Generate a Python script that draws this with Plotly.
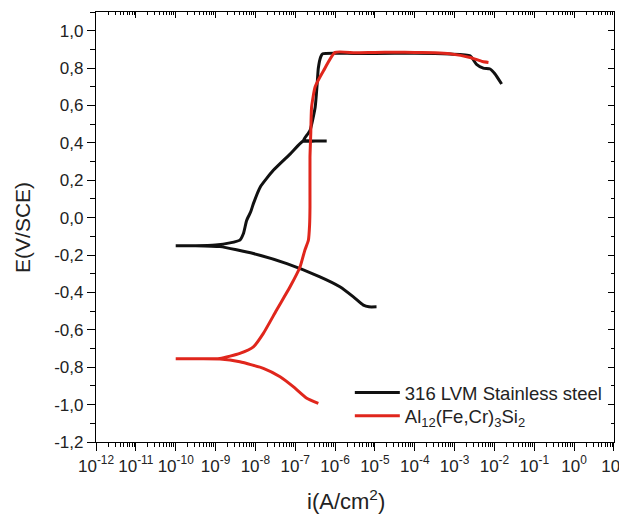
import plotly.graph_objects as go

# ---- data (current as log10(i / A cm^-2), potential in V/SCE) ----
steel_cat_logi = [-10.0, -9.5, -8.89, -8.05, -7.21, -6.38, -5.88, -5.54, -5.29, -5.15, -4.96]
steel_cat_E = [-0.150, -0.150, -0.155, -0.192, -0.246, -0.317, -0.370, -0.424, -0.468, -0.477, -0.477]

steel_an_logi = [-10.0, -9.5, -9.0, -8.64, -8.39, -8.30, -8.22, -8.12, -8.05, -7.88, -7.55, -7.13, -6.80, -6.50, -6.21, -6.50, -6.80,
                 -6.63, -6.50, -6.45, -6.42, -6.36, -6.31, -5.5, -4.5, -3.5, -3.12, -2.61, -2.45, -2.28, -2.11, -1.99, -1.82]
steel_an_E = [-0.150, -0.150, -0.146, -0.135, -0.120, -0.085, -0.015, 0.030, 0.075, 0.163, 0.253, 0.340, 0.410, 0.410, 0.410, 0.410, 0.410,
              0.466, 0.590, 0.715, 0.800, 0.860, 0.877, 0.878, 0.879, 0.878, 0.875, 0.866, 0.820, 0.800, 0.795, 0.770, 0.715]

alloy_cat_logi = [-10.0, -9.5, -8.89, -8.39, -7.80, -7.38, -7.05, -6.71, -6.42]
alloy_cat_E = [-0.755, -0.755, -0.756, -0.771, -0.806, -0.851, -0.904, -0.966, -0.993]

alloy_an_logi = [-10.0, -9.5, -8.89, -8.39, -8.05, -7.80, -7.47, -7.13, -6.88, -6.76, -6.67, -6.64, -6.63, -6.63, -6.61, -6.59,
                 -6.50, -6.29, -6.0, -5.5, -5.0, -4.5, -4.0, -3.5, -3.12, -2.61, -2.30, -2.15]
alloy_an_E = [-0.755, -0.755, -0.753, -0.726, -0.691, -0.619, -0.495, -0.370, -0.264, -0.175, -0.121, -0.040, 0.057, 0.323, 0.450, 0.590,
              0.700, 0.786, 0.884, 0.882, 0.884, 0.885, 0.883, 0.882, 0.877, 0.857, 0.835, 0.830]

y_ticks = [-1.2, -1.0, -0.8, -0.6, -0.4, -0.2, 0.0, 0.2, 0.4, 0.6, 0.8, 1.0]
y_ticktext = ["-1,2", "-1,0", "-0,8", "-0,6", "-0,4", "-0,2", "0,0", "0,2", "0,4", "0,6", "0,8", "1,0"]
x_exponents = list(range(-12, 2))
x_ticktext = [f"10<sup>{e}</sup>" for e in x_exponents]

series_names = ["316 LVM Stainless steel", "Al<sub>12</sub>(Fe,Cr)<sub>3</sub>Si<sub>2</sub>"]
series_colors = ["#111111", "#e0261c"]


def to_i(logs):
    return [10 ** v for v in logs]


fig = go.Figure()
fig.add_trace(go.Scatter(x=to_i(steel_cat_logi[::-1] + steel_an_logi), y=steel_cat_E[::-1] + steel_an_E,
                         mode="lines", name=series_names[0], legend="legend",
                         line=dict(color=series_colors[0], width=3, shape="spline", smoothing=0.5)))
fig.add_trace(go.Scatter(x=to_i(alloy_cat_logi[::-1] + alloy_an_logi), y=alloy_cat_E[::-1] + alloy_an_E,
                         mode="lines", name=series_names[1], legend="legend2",
                         line=dict(color=series_colors[1], width=3, shape="spline", smoothing=0.5)))
# empty trace so the mirrored top/right axes (inward ticks) are drawn
fig.add_trace(go.Scatter(x=[], y=[], xaxis="x2", yaxis="y2", showlegend=False, hoverinfo="skip"))

font_family = "Liberation Sans, Arial, sans-serif"
axis_common = dict(showline=True, linecolor="black", linewidth=1.3, showgrid=False, zeroline=False, automargin=False)
legend_common = dict(xanchor="left", yanchor="middle", bgcolor="rgba(0,0,0,0)",
                     font=dict(size=18.5, color="#222"), itemwidth=45)
x_range = [-12.0005, 1.0005]

fig.update_layout(
    width=619, height=507,
    margin=dict(l=88, r=13, t=4, b=73, autoexpand=False),
    plot_bgcolor="white", paper_bgcolor="white",
    font=dict(family=font_family, size=17, color="#222"),
    xaxis=dict(type="log", range=x_range, tickvals=[10.0 ** e for e in x_exponents], ticktext=x_ticktext,
               ticks="outside", ticklen=8, tickwidth=1.2, tickcolor="black", ticklabeloverflow="allow",
               minor=dict(ticks="outside", ticklen=4, tickwidth=1, tickcolor="black", dtick="D1"),
               tickfont=dict(size=17),
               **axis_common),
    yaxis=dict(range=[-1.2, 1.1], tickvals=y_ticks, ticktext=y_ticktext,
               ticks="outside", ticklen=8, tickwidth=1.2, tickcolor="black",
               minor=dict(ticks="outside", ticklen=5, tickwidth=1, tickcolor="black", dtick=0.1),
               tickfont=dict(size=17),
               **axis_common),
    xaxis2=dict(type="log", range=x_range, overlaying="x", side="top", showticklabels=False,
                tickvals=[10.0 ** e for e in x_exponents], ticks="inside", ticklen=6, tickcolor="black",
                minor=dict(ticks="inside", ticklen=3, tickcolor="black", dtick="D1"), **axis_common),
    yaxis2=dict(range=[-1.2, 1.1], overlaying="y", side="right", showticklabels=False,
                tickvals=y_ticks, ticks="inside", ticklen=6, tickcolor="black",
                minor=dict(ticks="inside", ticklen=3, tickcolor="black", dtick=0.1), **axis_common),
    legend=dict(x=0.49, y=0.114, **legend_common),
    legend2=dict(x=0.49, y=0.060, **legend_common),
    showlegend=True,
)

fig.add_annotation(text="E(V/SCE)", xref="paper", yref="paper", x=-0.143, y=0.5, textangle=-90,
                   showarrow=False, font=dict(size=21, color="#222"), xanchor="center", yanchor="middle")
fig.add_annotation(text="i(A/cm<sup>2</sup>)", xref="paper", yref="paper", x=0.482, y=-0.135,
                   showarrow=False, font=dict(size=22, color="#222"), xanchor="center", yanchor="middle")

fig.write_html("out.html")
